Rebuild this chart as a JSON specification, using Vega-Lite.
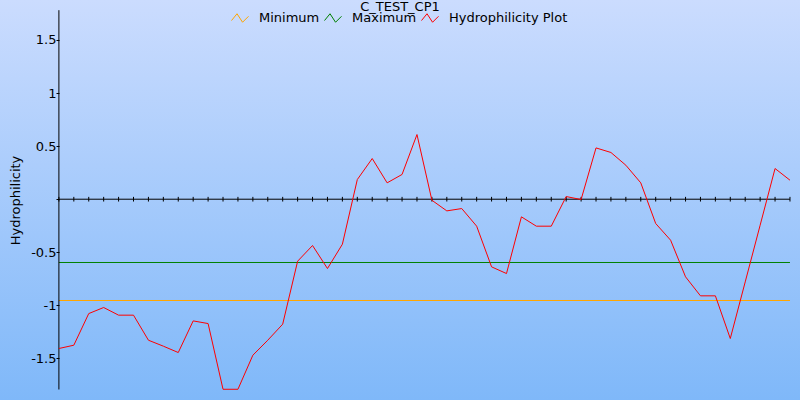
{
  "$schema": "https://vega.github.io/schema/vega-lite/v6.json",
  "width": 800,
  "height": 400,
  "autosize": {"type": "none"},
  "padding": 0,
  "background": "#a6c9fb",
  "config": {
    "view": {"stroke": null},
    "font": "DejaVu Sans",
    "legend": {
      "orient": "none",
      "legendX": 231,
      "legendY": 9,
      "direction": "horizontal",
      "title": null,
      "symbolType": "M-1,0.3L-0.35,-0.5L0.3,0.5L1,-0.2",
      "symbolSize": 289,
      "symbolStrokeWidth": 1,
      "symbolFillColor": "transparent",
      "labelFontSize": 13,
      "labelFont": "DejaVu Sans",
      "labelColor": "#000",
      "labelOffset": 10,
      "columnPadding": 2,
      "padding": 0
    }
  },
  "title": {
    "text": "C_TEST_CP1",
    "anchor": "middle",
    "frame": "group",
    "fontSize": 13,
    "fontWeight": "normal",
    "font": "DejaVu Sans",
    "color": "#000",
    "offset": 0,
    "baseline": "top",
    "dy": 14
  },
  "datasets": {
    "profile": [
      {"i": 0, "v": -1.406}, {"i": 1, "v": -1.375}, {"i": 2, "v": -1.077}, {"i": 3, "v": -1.02},
      {"i": 4, "v": -1.092}, {"i": 5, "v": -1.092}, {"i": 6, "v": -1.328}, {"i": 7, "v": -1.384},
      {"i": 8, "v": -1.444}, {"i": 9, "v": -1.146}, {"i": 10, "v": -1.171}, {"i": 11, "v": -1.79},
      {"i": 12, "v": -1.79}, {"i": 13, "v": -1.469}, {"i": 14, "v": -1.328}, {"i": 15, "v": -1.177},
      {"i": 16, "v": -0.584}, {"i": 17, "v": -0.436}, {"i": 18, "v": -0.653}, {"i": 19, "v": -0.424},
      {"i": 20, "v": 0.185}, {"i": 21, "v": 0.383}, {"i": 22, "v": 0.154}, {"i": 23, "v": 0.233},
      {"i": 24, "v": 0.609}, {"i": 25, "v": -0.01}, {"i": 26, "v": -0.11}, {"i": 27, "v": -0.088},
      {"i": 28, "v": -0.254}, {"i": 29, "v": -0.637}, {"i": 30, "v": -0.7}, {"i": 31, "v": -0.166},
      {"i": 32, "v": -0.254}, {"i": 33, "v": -0.254}, {"i": 34, "v": 0.025}, {"i": 35, "v": -0.003},
      {"i": 36, "v": 0.483}, {"i": 37, "v": 0.44}, {"i": 38, "v": 0.32}, {"i": 39, "v": 0.154},
      {"i": 40, "v": -0.229}, {"i": 41, "v": -0.386}, {"i": 42, "v": -0.731}, {"i": 43, "v": -0.91},
      {"i": 44, "v": -0.91}, {"i": 45, "v": -1.312}, {"i": 46, "v": -0.779}, {"i": 47, "v": -0.245},
      {"i": 48, "v": 0.289}, {"i": 49, "v": 0.179}
    ],
    "limits": [
      {"series": "Minimum", "value": -0.954},
      {"series": "Maximum", "value": -0.596}
    ],
    "one": [{}]
  },
  "layer": [
    {
      "data": {"name": "one"},
      "mark": {
        "type": "rect",
        "fill": {
          "gradient": "linear",
          "x1": 0, "y1": 0, "x2": 0, "y2": 1,
          "stops": [
            {"offset": 0, "color": "#cbdcfe"},
            {"offset": 1, "color": "#7fb8f9"}
          ]
        }
      },
      "encoding": {}
    },
    {
      "data": {"name": "limits"},
      "mark": {"type": "rule", "strokeWidth": 1},
      "encoding": {
        "x": {"datum": 0, "type": "quantitative", "scale": {"domain": [-3.948, 49.672], "nice": false, "zero": false}, "axis": null},
        "x2": {"datum": 49},
        "y": {
          "field": "value",
          "type": "quantitative",
          "scale": {"domain": [-1.891, 1.876], "nice": false, "zero": false},
          "axis": {
            "orient": "left",
            "offset": -59,
            "zindex": 2,
            "domain": false,
            "grid": false,
            "values": [-1.5, -1, -0.5, 0, 0.5, 1, 1.5],
            "labelExpr": "datum.value == 0 ? '' : '' + datum.value",
            "tickSize": 3,
            "tickColor": "#000",
            "labelPadding": 0,
            "labelFontSize": 13,
            "labelFont": "DejaVu Sans",
            "labelColor": "#000",
            "labelOverlap": false,
            "labelBound": false,
            "labelFlush": false,
            "title": "Hydrophilicity",
            "titleFontSize": 13,
            "titleFont": "DejaVu Sans",
            "titleFontWeight": "normal",
            "titleColor": "#000",
            "titlePadding": 8
          }
        },
        "color": {
          "field": "series",
          "type": "nominal",
          "scale": {"domain": ["Minimum", "Maximum", "Hydrophilicity Plot"], "range": ["#ffa500", "#008000", "#ff0000"]}
        }
      }
    },
    {
      "data": {"name": "one"},
      "mark": {"type": "rule", "color": "#000", "strokeWidth": 1},
      "encoding": {
        "x": {"datum": 0, "type": "quantitative"},
        "x2": {"datum": 49},
        "y": {"datum": 0, "type": "quantitative"}
      }
    },
    {
      "data": {"name": "one"},
      "mark": {"type": "rule", "color": "#000", "strokeWidth": 1},
      "encoding": {
        "x": {"datum": 0, "type": "quantitative"},
        "y": {"datum": -1.792, "type": "quantitative"},
        "y2": {"datum": 1.78}
      }
    },
    {
      "data": {"name": "profile"},
      "mark": {"type": "rule", "color": "#000", "strokeWidth": 1},
      "encoding": {
        "x": {"field": "i", "type": "quantitative"},
        "y": {"datum": -0.022, "type": "quantitative"},
        "y2": {"datum": 0.022}
      }
    },
    {
      "data": {"name": "profile"},
      "mark": {"type": "line", "strokeWidth": 1},
      "encoding": {
        "x": {"field": "i", "type": "quantitative"},
        "y": {"field": "v", "type": "quantitative"},
        "color": {"datum": "Hydrophilicity Plot"}
      }
    }
  ]
}
